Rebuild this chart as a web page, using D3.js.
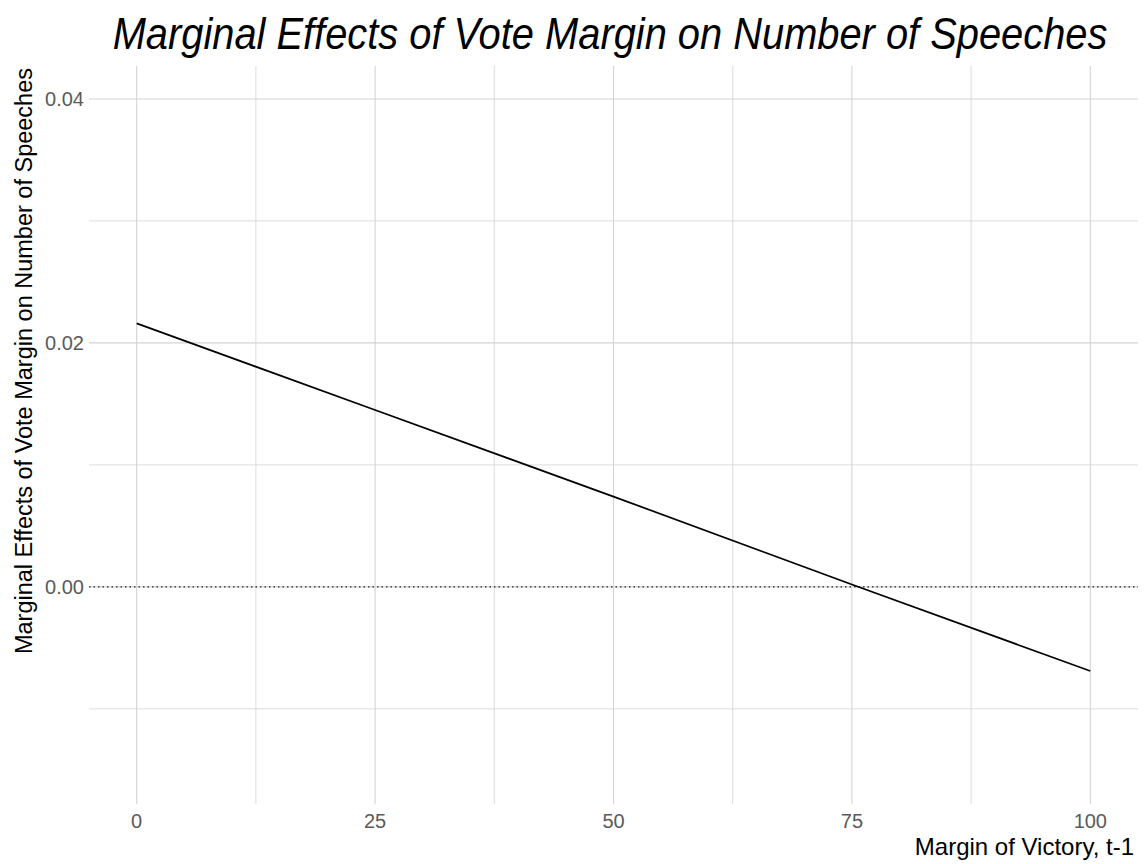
<!DOCTYPE html>
<html>
<head>
<meta charset="utf-8">
<script src="https://cdn.jsdelivr.net/npm/d3@7/dist/d3.min.js"></script>
<style>
  html, body { margin: 0; padding: 0; background: #fff; }
  svg { display: block; }
</style>
</head>
<body>
<svg id="chart" width="1145" height="864"></svg>
<script>
// Marginal effect estimates across margin of victory
const margin = [0, 25, 50, 75, 100];
const effect = [0.0216, 0.0145, 0.0074, 0.0002, -0.0069];

const xTicks = [0, 25, 50, 75, 100];
const xMinor = [12.5, 37.5, 62.5, 87.5];
const yTicks = [0.00, 0.02, 0.04];
const yMinor = [-0.01, 0.01, 0.03];

const titleText = "Marginal Effects of Vote Margin on Number of Speeches";
const xTitle = "Margin of Victory, t-1";
const yTitle = "Marginal Effects of Vote Margin on Number of Speeches";

const svg = d3.select("#chart");
const panel = { left: 89, right: 1138, top: 66, bottom: 804 };

const x = d3.scaleLinear().domain([-5, 105]).range([panel.left, panel.right]);
const y = d3.scaleLinear().domain([-0.0178, 0.0427]).range([panel.bottom, panel.top]);

const grid = svg.append("g").attr("stroke", "#d3d3d3");

// minor grid
grid.selectAll("line.vmin").data(xMinor).join("line")
  .attr("x1", d => x(d)).attr("x2", d => x(d))
  .attr("y1", panel.top).attr("y2", panel.bottom)
  .attr("stroke-width", 0.8);
grid.selectAll("line.hmin").data(yMinor).join("line")
  .attr("y1", d => y(d)).attr("y2", d => y(d))
  .attr("x1", panel.left).attr("x2", panel.right)
  .attr("stroke-width", 0.8);
// major grid
grid.selectAll("line.vmaj").data(xTicks).join("line")
  .attr("x1", d => x(d)).attr("x2", d => x(d))
  .attr("y1", panel.top).attr("y2", panel.bottom)
  .attr("stroke-width", 1.1);
grid.selectAll("line.hmaj").data(yTicks).join("line")
  .attr("y1", d => y(d)).attr("y2", d => y(d))
  .attr("x1", panel.left).attr("x2", panel.right)
  .attr("stroke-width", 1.1);

// zero reference line
svg.append("line")
  .attr("x1", panel.left).attr("x2", panel.right)
  .attr("y1", y(0)).attr("y2", y(0))
  .attr("stroke", "#222").attr("stroke-width", 1.3)
  .attr("stroke-dasharray", "1.5,3");

// effect line
const line = d3.line().x((d, i) => x(margin[i])).y(d => y(d));
svg.append("path")
  .datum(effect)
  .attr("d", line)
  .attr("fill", "none")
  .attr("stroke", "#000")
  .attr("stroke-width", 1.7);

// tick labels
const tickFont = "'Liberation Sans', Arial, sans-serif";
svg.append("g").selectAll("text").data(xTicks).join("text")
  .attr("x", d => x(d)).attr("y", 828)
  .attr("text-anchor", "middle")
  .attr("font-family", tickFont).attr("font-size", 20)
  .attr("fill", "#5a5a5a")
  .text(d => d);

svg.append("g").selectAll("text").data(yTicks).join("text")
  .attr("x", 84).attr("y", d => y(d) + 7)
  .attr("text-anchor", "end")
  .attr("font-family", tickFont).attr("font-size", 20)
  .attr("fill", "#5a5a5a")
  .text(d => d3.format(".2f")(d));

// axis titles
svg.append("text")
  .attr("x", panel.right - 4).attr("y", 855)
  .attr("text-anchor", "end")
  .attr("font-family", tickFont).attr("font-size", 24)
  .attr("fill", "#000")
  .text(xTitle);

svg.append("text")
  .attr("transform", `translate(32, ${panel.top + 2}) rotate(-90)`)
  .attr("text-anchor", "end")
  .attr("font-family", tickFont).attr("font-size", 23.5)
  .attr("fill", "#000")
  .text(yTitle);

// title: tall italic face, squeezed horizontally to a condensed width
const titleG = svg.append("g");
const title = titleG.append("text")
  .attr("x", 0).attr("y", 0)
  .attr("text-anchor", "middle")
  .attr("font-family", tickFont).attr("font-size", 45)
  .attr("font-style", "italic")
  .attr("fill", "#000")
  .text(titleText);
const natural = title.node().getComputedTextLength();
const sx = Math.min(1, 995 / natural);
titleG.attr("transform", `translate(610, 49) scale(${sx}, 1)`);
</script>
</body>
</html>
